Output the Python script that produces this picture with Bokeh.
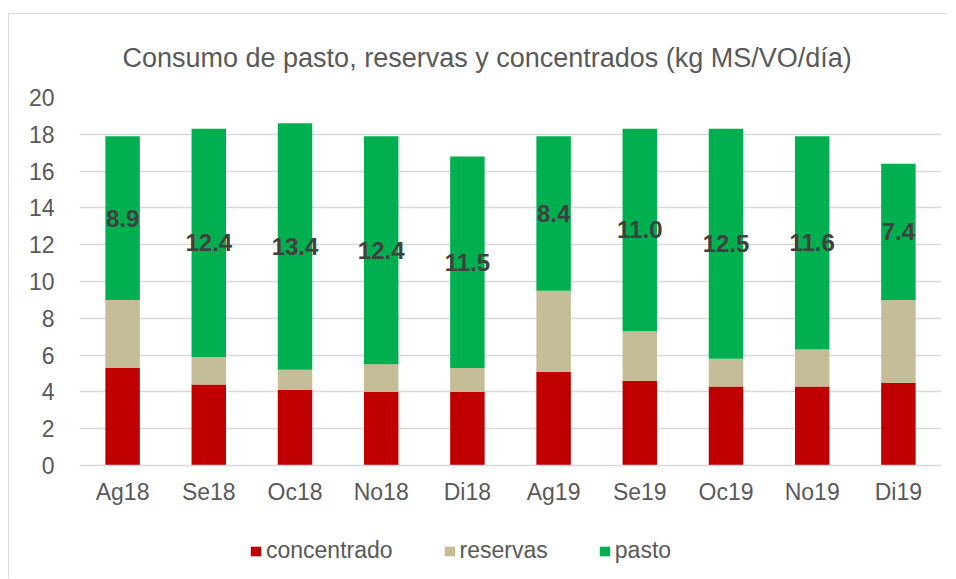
from bokeh.plotting import figure
from bokeh.layouts import column
from bokeh.models import ColumnDataSource, LabelSet, Legend, LegendItem, SingleIntervalTicker, Title, FactorRange
from bokeh.core.properties import value
from bokeh.embed import file_html
from bokeh.resources import INLINE

months = ["Ag18", "Se18", "Oc18", "No18", "Di18", "Ag19", "Se19", "Oc19", "No19", "Di19"]
concentrado = [5.3, 4.4, 4.1, 4.0, 4.0, 5.1, 4.6, 4.3, 4.3, 4.5]
reservas = [3.7, 1.5, 1.1, 1.5, 1.3, 4.4, 2.7, 1.5, 2.0, 4.5]
pasto = [8.9, 12.4, 13.4, 12.4, 11.5, 8.4, 11.0, 12.5, 11.6, 7.4]
series = ["concentrado", "reservas", "pasto"]
colors = ["#c00000", "#c4bd97", "#00b050"]

label_y = [c + r + p / 2 for c, r, p in zip(concentrado, reservas, pasto)]
label_txt = [f"{p:.1f}" for p in pasto]

src = ColumnDataSource(dict(month=months, concentrado=concentrado, reservas=reservas,
                            pasto=pasto, label_y=label_y, label_txt=label_txt))

FONT = "Liberation Sans"
GREY = "#595959"
BORDER = "1px solid #d9d9d9"

p = figure(x_range=FactorRange(*months, range_padding=0), y_range=(0, 20),
           frame_width=861, frame_height=367, output_backend="svg", toolbar_location=None,
           min_border_left=70, min_border_right=7, min_border_top=83, min_border_bottom=38)
p.styles = {"border-left": BORDER, "border-top": BORDER,
            "margin-left": "8px", "margin-top": "13px"}
p.outline_line_color = None

t = Title(text="Consumo de pasto, reservas y concentrados (kg MS/VO/día)", align="left",
          offset=43, text_font=FONT, text_font_size="27px", text_font_style="normal",
          text_color=GREY, standoff=50)
p.add_layout(t, "above")

p.vbar_stack(series, x="month", width=0.4, color=colors, source=src, line_color=None)

labels = LabelSet(x="month", y="label_y", text="label_txt", source=src, text_align="center",
                  text_baseline="middle", text_font=value(FONT), text_font_size="24px",
                  text_font_style="bold", text_color="#404040")
p.add_layout(labels)

p.yaxis.ticker = SingleIntervalTicker(interval=2)
p.yaxis.axis_line_color = None
p.yaxis.major_tick_line_color = None
p.yaxis.minor_tick_line_color = None
p.yaxis.major_label_text_font = FONT
p.yaxis.major_label_text_font_size = "23px"
p.yaxis.major_label_text_color = GREY
p.yaxis.major_label_standoff = 19

p.xaxis.axis_line_color = "#d9d9d9"
p.xaxis.axis_line_width = 1.5
p.xaxis.major_tick_line_color = None
p.xaxis.minor_tick_line_color = None
p.xaxis.major_label_text_font = FONT
p.xaxis.major_label_text_font_size = "23px"
p.xaxis.major_label_text_color = GREY
p.xaxis.major_label_standoff = 7

p.xgrid.grid_line_color = None
p.ygrid.grid_line_color = "#d9d9d9"
p.ygrid.grid_line_width = 1.5

# legend strip below the chart (zero-width bars only serve as legend sources)
p2 = figure(x_range=FactorRange(*months, range_padding=0), y_range=(-200, -199),
            width=938, height=72, output_backend="svg", toolbar_location=None,
            x_axis_type=None, y_axis_type=None, min_border=0)
p2.styles = {"border-left": BORDER, "margin-left": "8px"}
p2.outline_line_color = None
p2.xgrid.grid_line_color = None
p2.ygrid.grid_line_color = None
rs2 = p2.vbar_stack(series, x="month", width=0, color=colors, source=src, line_color=None)

legend = Legend(items=[LegendItem(label=s, renderers=[r]) for s, r in zip(series, rs2)],
                orientation="horizontal", location=(170, 14), label_text_font=FONT,
                label_text_font_size="23px", label_text_color=GREY, glyph_width=13,
                glyph_height=12, label_standoff=4, spacing=50, border_line_color=None,
                background_fill_alpha=0, padding=0, margin=0)
p2.add_layout(legend, "center")

layout = column(p, p2, spacing=0)
open("out.html", "w").write(file_html(layout, INLINE))
